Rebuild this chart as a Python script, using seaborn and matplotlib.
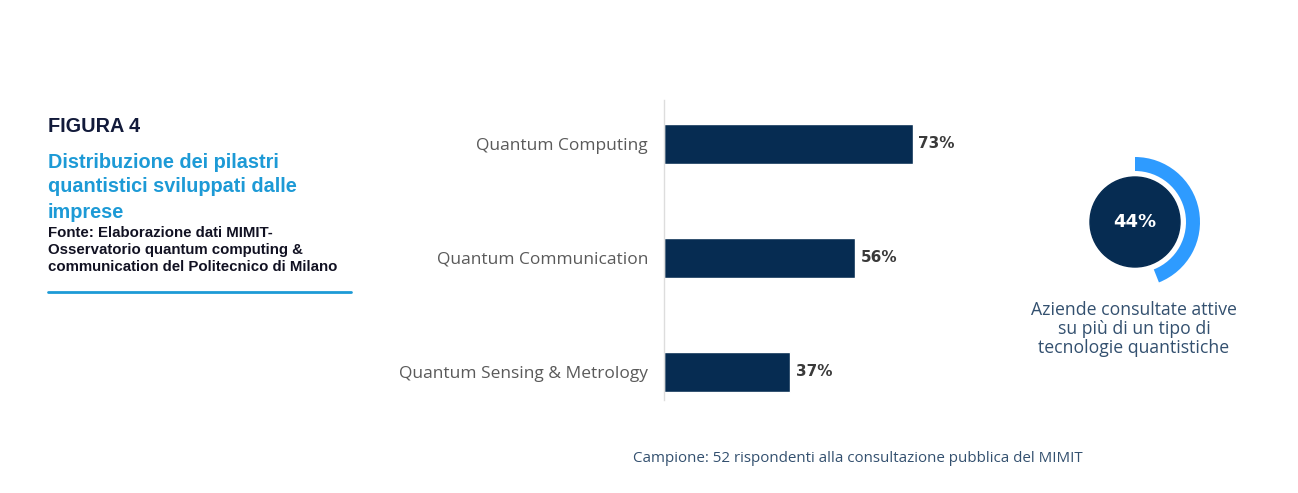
import numpy as np
import pandas as pd
import matplotlib.pyplot as plt
import seaborn as sns
from matplotlib.patches import Circle

# ------------------------------------------------------------
# Dati
# ------------------------------------------------------------
categorie = ["Quantum Computing", "Quantum Communication", "Quantum Sensing & Metrology"]
valori = [73, 56, 37]
quota_multi = 44

titolo = ["Distribuzione dei pilastri", "quantistici sviluppati dalle", "imprese"]
fonte = ["Fonte: Elaborazione dati MIMIT-", "Osservatorio quantum computing &",
         "communication del Politecnico di Milano"]
didascalia = ["Aziende consultate attive", "su più di un tipo di", "tecnologie quantistiche"]
campione = "Campione: 52 rispondenti alla consultazione pubblica del MIMIT"

NAVY = "#062c52"
BLU_ARCO = "#2e9bff"
BLU_TITOLO = "#1d9ad6"
TESTO = "#33506f"
BOLD = ["DejaVu Sans"]

sns.set_style("white")
plt.rcParams["font.family"] = ["Open Sans", "DejaVu Sans"]

W, H = 1298, 493
fig = plt.figure(figsize=(W / 100, H / 100), dpi=100)

# ------------------------------------------------------------
# Barre
# ------------------------------------------------------------
ax = fig.add_axes([664 / W, (H - 400) / H, 341 / W, 300 / H])
df = pd.DataFrame({"categoria": categorie, "valore": valori})
sns.barplot(data=df, x="valore", y="categoria", color=NAVY, width=0.35,
            saturation=1, ax=ax)
ax.set_xlim(0, 100)
ax.set_ylim(2.246, -0.386)
ax.set_xlabel("")
ax.set_ylabel("")
ax.set_xticks([])
for s in ["top", "right", "bottom"]:
    ax.spines[s].set_visible(False)
ax.spines["left"].set_color("#dddddd")
ax.spines["left"].set_linewidth(1)
ax.tick_params(axis="y", length=0, pad=11.5, labelsize=12.5, labelcolor="#5a5a5a")
ax.bar_label(ax.containers[0], labels=[f"{v}%" for v in valori], padding=4,
             fontsize=11, fontweight="bold", color="#3a3a3a", family=BOLD)

# ------------------------------------------------------------
# Ciambella 44%
# ------------------------------------------------------------
cx, cy, half = 1135, 222, 70
axd = fig.add_axes([(cx - half) / W, (H - cy - half) / H, 2 * half / W, 2 * half / H])
axd.pie([quota_multi, 100 - quota_multi], colors=[BLU_ARCO, "none"],
        startangle=90, counterclock=False, radius=1,
        wedgeprops=dict(width=14 / 65, linewidth=0))
axd.add_patch(Circle((0, 0), 45 / 65, color=NAVY))
axd.text(0, 0, f"{quota_multi}%", ha="center", va="center", color="white",
         fontsize=13, fontweight="bold", family=BOLD)
axd.set_xlim(-half / 65, half / 65)
axd.set_ylim(-half / 65, half / 65)
axd.set_aspect("equal")
axd.axis("off")

for i, riga in enumerate(didascalia):
    fig.text(1134 / W, 1 - (310 + i * 19) / H, riga, ha="center", va="center",
             fontsize=12.7, color=TESTO)

# ------------------------------------------------------------
# Testi a sinistra
# ------------------------------------------------------------
fig.text(48 / W, 1 - 127 / H, "FIGURA 4", ha="left", va="center",
         fontsize=14.3, fontweight="bold", color="#121a3a",
         family=["Liberation Sans", "DejaVu Sans"])
for i, riga in enumerate(titolo):
    fig.text(48 / W, 1 - (162 + i * 25) / H, riga, ha="left", va="center",
             fontsize=14.3, fontweight="bold", color=BLU_TITOLO,
             family=["Liberation Sans", "DejaVu Sans"])
for i, riga in enumerate(fonte):
    fig.text(48 / W, 1 - (233 + i * 17) / H, riga, ha="left", va="center",
             fontsize=10.8, fontweight="bold", color="#111122",
             family=["Liberation Sans", "DejaVu Sans"])
fig.add_artist(plt.Line2D([48 / W, 351 / W], [1 - 292 / H, 1 - 292 / H],
                          color=BLU_TITOLO, linewidth=2))

fig.text(858 / W, 1 - 458 / H, campione, ha="center", va="center",
         fontsize=10.9, color=TESTO)

fig.savefig("out.png", dpi=100)
